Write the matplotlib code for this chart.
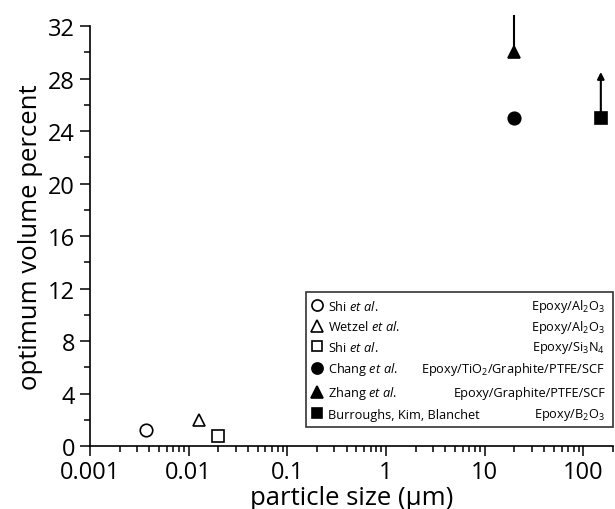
import numpy as np
import matplotlib.pyplot as plt
from matplotlib.lines import Line2D

plt.rcParams['font.family'] = ['Open Sans', 'DejaVu Sans']
plt.rcParams['mathtext.fontset'] = 'custom'
plt.rcParams['mathtext.rm'] = 'Open Sans'
plt.rcParams['mathtext.it'] = 'Open Sans:italic'

# data
authors = ["Shi $\\mathit{et\\ al.}$", "Wetzel $\\mathit{et\\ al.}$", "Shi $\\mathit{et\\ al.}$",
           "Chang $\\mathit{et\\ al.}$", "Zhang $\\mathit{et\\ al.}$", "Burroughs, Kim, Blanchet"]
materials = ["Epoxy/Al$_2$O$_3$", "Epoxy/Al$_2$O$_3$", "Epoxy/Si$_3$N$_4$",
             "Epoxy/TiO$_2$/Graphite/PTFE/SCF", "Epoxy/Graphite/PTFE/SCF", "Epoxy/B$_2$O$_3$"]
size_um = [0.0037, 0.0128, 0.02, 20, 20, 150]
vol_pct = [1.2, 2.0, 0.75, 25, 30, 25]
markers = ['o', '^', 's', 'o', '^', 's']
filled = [False, False, False, True, True, True]

# open-ended ranges: (index, upper value, arrow head)
ranges_idx = [4, 5]
ranges_top = [32.8, 28.5]
ranges_head = [False, True]

fig = plt.figure(figsize=(6.15, 5.10), dpi=100)
ax = fig.add_axes([0.146, 0.1235, 0.851, 0.8235])

for i, top, head in zip(ranges_idx, ranges_top, ranges_head):
    if head:
        ax.annotate("", xy=(size_um[i], top), xytext=(size_um[i], vol_pct[i]),
                    arrowprops=dict(arrowstyle='-|>', color='black', lw=1.5,
                                    mutation_scale=10, shrinkA=0, shrinkB=0),
                    annotation_clip=False)
    else:
        ax.plot([size_um[i], size_um[i]], [vol_pct[i], top], color='black',
                lw=1.5, clip_on=False)

handles = []
for x, y, m, f in zip(size_um, vol_pct, markers, filled):
    fc = 'black' if f else 'white'
    ms = 9 if m != 's' else 8
    ax.plot([x], [y], marker=m, ms=ms, mfc=fc, mec='black', mew=1.2,
            ls='none', clip_on=False, zorder=5)
    handles.append(Line2D([], [], marker=m, ms=ms - 1, mfc=fc, mec='black',
                          mew=1.2, ls='none'))

ax.set_xscale('log')
ax.set_xlim(0.001, 200)
ax.set_ylim(0, 32)
ax.set_yticks(np.arange(0, 33, 4))
ax.set_yticks(np.arange(0, 33, 2), minor=True)
ax.set_xticks([0.001, 0.01, 0.1, 1, 10, 100])
ax.set_xticklabels(["0.001", "0.01", "0.1", "1", "10", "100"])
ax.spines['top'].set_visible(False)
ax.spines['right'].set_visible(False)
for s in ['left', 'bottom']:
    ax.spines[s].set_linewidth(1.2)
ax.tick_params(which='major', length=7, width=1.1, labelsize=17, direction='out')
ax.tick_params(axis='x', which='major', pad=3)
ax.tick_params(which='minor', length=4, width=1.1, direction='out')
ax.set_xlabel("particle size (\u03bcm)", fontsize=18.5, labelpad=1)
ax.set_ylabel("optimum volume percent", fontsize=18.5, labelpad=4)

leg = ax.legend(handles, authors, loc='lower left', mode='expand',
                bbox_to_anchor=(0.413, 0.045, 0.587, 0.319), fontsize=9.2,
                frameon=True, fancybox=False, edgecolor='black',
                handlelength=0.8, handletextpad=0.4, labelspacing=0.52,
                borderpad=0.5, borderaxespad=0)
leg.get_frame().set_linewidth(1.2)

fig.canvas.draw()
frame = leg.get_frame().get_window_extent()
for t, mat in zip(leg.get_texts(), materials):
    bb = t.get_window_extent()
    fig.text(frame.x1 - 8, (bb.y0 + bb.y1) / 2, mat, fontsize=9.2,
             ha='right', va='center', transform=None)

fig.savefig("out.png", dpi=100)
